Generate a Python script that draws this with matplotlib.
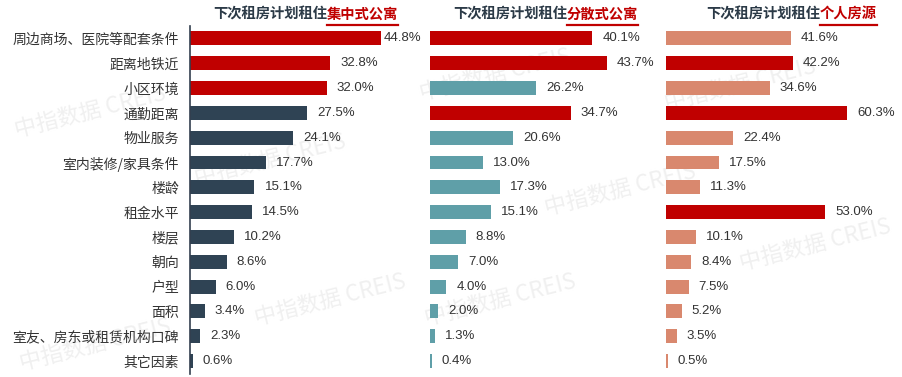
import matplotlib
matplotlib.use("Agg")
import matplotlib.pyplot as plt
from matplotlib.lines import Line2D

plt.rcParams['font.family'] = ['Noto Sans CJK SC', 'DejaVu Sans']

categories = ["周边商场、医院等配套条件", "距离地铁近", "小区环境", "通勤距离", "物业服务",
              "室内装修/家具条件", "楼龄", "租金水平", "楼层", "朝向", "户型", "面积",
              "室友、房东或租赁机构口碑", "其它因素"]
concentrated = [44.8, 32.8, 32.0, 27.5, 24.1, 17.7, 15.1, 14.5, 10.2, 8.6, 6.0, 3.4, 2.3, 0.6]
scattered = [40.1, 43.7, 26.2, 34.7, 20.6, 13.0, 17.3, 15.1, 8.8, 7.0, 4.0, 2.0, 1.3, 0.4]
personal = [41.6, 42.2, 34.6, 60.3, 22.4, 17.5, 11.3, 53.0, 10.1, 8.4, 7.5, 5.2, 3.5, 0.5]
highlight1 = [0, 1, 2]
highlight2 = [0, 1, 3]
highlight3 = [1, 3, 7]
title_prefix = "下次租房计划租住"
title_suffixes = ["集中式公寓", "分散式公寓", "个人房源"]

RED = "#C00000"
colors_base = ["#2F4354", "#5F9FA8", "#D9886E"]

W, H = 902, 377
fig = plt.figure(figsize=(W / 100, H / 100), dpi=100)

bottom = 1 - 373.5 / H
height = (373.5 - 26) / H
panels = [
    (190, 55, concentrated, highlight1),
    (430, 57, scattered, highlight2),
    (666, 78, personal, highlight3),
]
scale = [4.27, 4.05, 3.0]

# faint watermarks
wm = [(90, 112), (270, 160), (495, 75), (500, 300), (740, 85), (95, 345), (330, 300), (815, 245), (620, 190)]
for (x, y) in wm:
    fig.text(x / W, 1 - y / H, "中指数据 CREIS", fontsize=16, color="#F0F0F0",
             rotation=14, ha="center", va="center", zorder=-5)

ypos = list(range(len(categories)))
for i, (left, xmax, vals, hl) in enumerate(panels):
    width_px = xmax * scale[i]
    ax = fig.add_axes([left / W, bottom, width_px / W, height])
    ax.patch.set_alpha(0)
    cols = [RED if j in hl else colors_base[i] for j in range(len(vals))]
    ax.barh(ypos, vals, height=0.56, color=cols, zorder=2)
    ax.set_xlim(0, xmax)
    ax.set_ylim(len(categories) - 0.5, -0.5)
    for s in ["top", "right", "bottom"]:
        ax.spines[s].set_visible(False)
    ax.set_xticks([])
    if i == 0:
        ax.spines["left"].set_color("#333F4F")
        ax.spines["left"].set_linewidth(1.2)
        ax.set_yticks(ypos)
        ax.set_yticklabels(categories, fontsize=10, color="#333333")
        ax.tick_params(axis="y", length=0, pad=8)
    else:
        ax.spines["left"].set_visible(False)
        ax.set_yticks([])
    vmax = max(vals)
    for j, v in enumerate(vals):
        off = 2 if (i == 0 and v == vmax) else 10
        ax.annotate(f"{v:.1f}%", (v, j), xytext=(off * 0.72, 0), textcoords="offset points",
                    ha="left", va="center", fontsize=9.5, color="#333333",
                    family=["Liberation Sans", "DejaVu Sans"], annotation_clip=False)

# titles
splits = [327, 567, 820]
fig.canvas.draw()
renderer = fig.canvas.get_renderer()
ty = 1 - 15 / H
for sx, suf in zip(splits, title_suffixes):
    fig.text(sx / W, ty, title_prefix, ha="right", va="center", fontsize=10.3,
             fontweight="bold", color="#2B3A47")
    t = fig.text(sx / W, ty, suf, ha="left", va="center", fontsize=10.3,
                 fontweight="bold", color=RED)
    bb = t.get_window_extent(renderer)
    fig.add_artist(Line2D([bb.x0 / W, bb.x1 / W], [1 - 25 / H, 1 - 25 / H],
                          color=RED, linewidth=1.6, transform=fig.transFigure))

fig.savefig("out.png", dpi=100)
